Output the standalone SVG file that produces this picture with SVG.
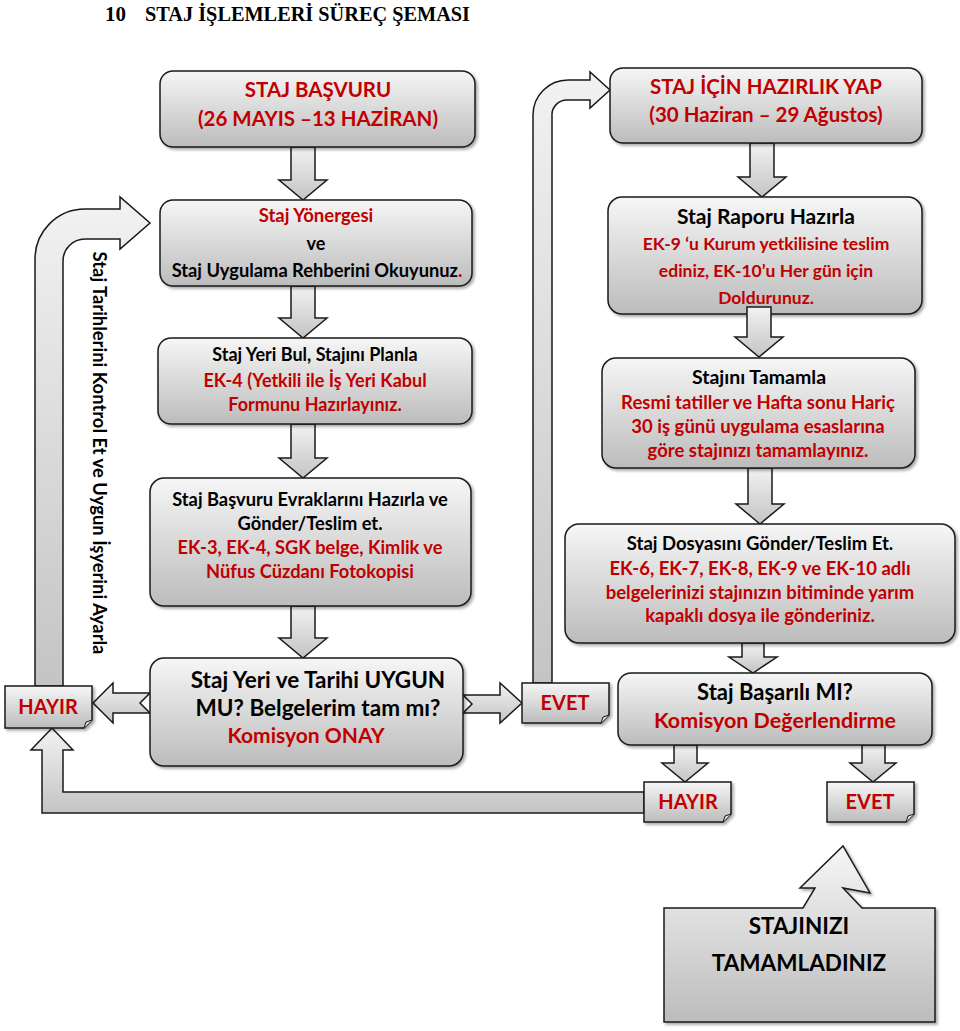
<svg xmlns="http://www.w3.org/2000/svg" width="960" height="1031" viewBox="0 0 960 1031">
<defs>
<linearGradient id="gBox" x1="0" y1="0" x2="0" y2="1">
<stop offset="0" stop-color="#f6f6f6"/>
<stop offset="1" stop-color="#bcbcbc"/>
</linearGradient>
<linearGradient id="gArr" x1="0" y1="0" x2="0" y2="1">
<stop offset="0" stop-color="#f2f2f2"/>
<stop offset="1" stop-color="#c4c4c4"/>
</linearGradient>
<filter id="sh" x="-5%" y="-5%" width="115%" height="120%">
<feDropShadow dx="2" dy="2" stdDeviation="1.5" flood-color="#000" flood-opacity="0.35"/>
</filter>
</defs>
<style>
.box{fill:url(#gBox);stroke:#1a1a1a;stroke-width:1.5;filter:url(#sh)}
.arr{fill:url(#gArr);stroke:#1a1a1a;stroke-width:1.5;stroke-linejoin:miter}
.t{font-family:Lato,"Liberation Sans",sans-serif;font-weight:bold;text-anchor:middle}
.r{fill:#c00000}
.k{fill:#000}
.title{font-family:"Liberation Serif","DejaVu Serif",serif;font-weight:bold;font-size:21px;fill:#000}
</style>
<rect width="960" height="1031" fill="#fff"/>
<text class="title" x="105" y="21">10</text>
<text class="title" x="145" y="21" textLength="325" lengthAdjust="spacingAndGlyphs">STAJ İŞLEMLERİ SÜREÇ ŞEMASI</text>

<g id="connectors">
<path class="arr" d="M35,686 L35,259 A50,50 0 0 1 85,209 L120,209 L120,197 L150,223 L120,249 L120,239 L85,239 A22,22 0 0 0 63,261 L63,686 Z"/>
<path class="arr" d="M533,683 L533,115 A35,35 0 0 1 568,80 L590,80 L590,72 L610,90 L590,108 L590,100 L568,100 A15,15 0 0 0 552,116 L552,683 Z"/>
<path class="arr" d="M644,792 L63,792 L63,750 L73,750 L52,728 L31,750 L42,750 L42,813 L644,813 Z"/>
<path class="arr" d="M93,703 L113,683 L113,693 L150,693 L140,703 L150,713 L113,713 L113,723 Z"/>
<path class="arr" d="M463,695 L500,695 L500,683 L522,703 L500,723 L500,713 L463,713 L472,704 Z"/>
<path class="arr" d="M291,147 L315,147 L315,180 L327,180 L303,200 L279,180 L291,180 Z"/>
<path class="arr" d="M291,286 L315,286 L315,318 L327,318 L303,338 L279,318 L291,318 Z"/>
<path class="arr" d="M291,424 L315,424 L315,458 L327,458 L303,478 L279,458 L291,458 Z"/>
<path class="arr" d="M291,606 L315,606 L315,638 L327,638 L303,658 L279,638 L291,638 Z"/>
<path class="arr" d="M750,143 L774,143 L774,177 L786,177 L762,197 L738,177 L750,177 Z"/>
<path class="arr" d="M748,468 L772,468 L772,504 L784,504 L760,524 L736,504 L748,504 Z"/>
<path class="arr" d="M742,643 L764,643 L764,657 L777,657 L753,673 L729,657 L742,657 Z"/>
<path class="arr" d="M674,745 L697,745 L697,763 L708,763 L685,782 L662,763 L674,763 Z"/>
<path class="arr" d="M862,745 L885,745 L885,763 L896,763 L873,782 L850,763 L862,763 Z"/>
</g>

<g id="n-basvuru">
<rect class="box" x="160" y="71" width="315" height="76" rx="13"/>
<text class="t r" x="318" y="97" font-size="20.5">STAJ BAŞVURU</text>
<text class="t r" x="318" y="126" font-size="20.5">(26 MAYIS –13 HAZİRAN)</text>
</g>
<g id="n-yonerge">
<rect class="box" x="160" y="200" width="312" height="86" rx="13"/>
<text class="t r" x="316" y="222" font-size="18.5">Staj Yönergesi</text>
<text class="t k" x="316" y="250" font-size="18">ve</text>
<text class="t k" x="317" y="277" font-size="18.3">Staj Uygulama Rehberini Okuyunuz<tspan class="r">.</tspan></text>
</g>
<g id="n-yeribul">
<rect class="box" x="158" y="338" width="314" height="86" rx="13"/>
<text class="t k" x="315" y="361" font-size="18">Staj Yeri Bul, Stajını Planla</text>
<text class="t r" x="315" y="387" font-size="18">EK-4 (Yetkili ile İş Yeri Kabul</text>
<text class="t r" x="315" y="411" font-size="18">Formunu Hazırlayınız.</text>
</g>
<g id="n-evrak">
<rect class="box" x="150" y="478" width="321" height="128" rx="14"/>
<text class="t k" x="310" y="506" font-size="18.3">Staj Başvuru Evraklarını Hazırla ve</text>
<text class="t k" x="310" y="530" font-size="18.3">Gönder/Teslim et.</text>
<text class="t r" x="310" y="554" font-size="18.3">EK-3, EK-4, SGK belge, Kimlik ve</text>
<text class="t r" x="310" y="578" font-size="18.3">Nüfus Cüzdanı Fotokopisi</text>
</g>
<g id="n-onay">
<rect class="box" x="150" y="658" width="313" height="108" rx="14"/>
<text class="t k" x="318" y="688" font-size="22.5">Staj Yeri ve Tarihi UYGUN</text>
<text class="t k" x="318" y="716" font-size="22.5">MU? Belgelerim tam mı?</text>
<text class="t r" x="306" y="743" font-size="21">Komisyon ONAY</text>
</g>
<g id="n-hayir1">
<path class="box" d="M5,686 L92,686 L92,720 L84,728 L5,728 Z"/>
<path d="M84,728 L86,722 L92,720" fill="#ddd" stroke="#1a1a1a" stroke-width="1"/>
<text class="t r" x="48" y="714" font-size="20">HAYIR</text>
</g>
<g id="n-evet1">
<path class="box" d="M522,683 L609,683 L609,715 L601,723 L522,723 Z"/>
<path d="M601,723 L603,717 L609,715" fill="#ddd" stroke="#1a1a1a" stroke-width="1"/>
<text class="t r" x="565" y="710" font-size="20">EVET</text>
</g>
<g id="n-hazirlik">
<rect class="box" x="610" y="68" width="312" height="75" rx="13"/>
<text class="t r" x="766" y="94" font-size="20.5">STAJ İÇİN HAZIRLIK YAP</text>
<text class="t r" x="766" y="122" font-size="20.5">(30 Haziran – 29 Ağustos)</text>
</g>
<g id="n-rapor">
<rect class="box" x="608" y="197" width="314" height="117" rx="14"/>
<text class="t k" x="766" y="224" font-size="21">Staj Raporu Hazırla</text>
<text class="t r" x="766" y="250" font-size="17.5">EK-9 ‘u Kurum yetkilisine teslim</text>
<text class="t r" x="766" y="277" font-size="17.5">ediniz, EK-10’u Her gün için</text>
<text class="t r" x="766" y="304" font-size="17.5">Doldurunuz.</text>
</g>
<path class="arr" d="M747,307 L771,307 L771,337 L783,337 L759,357 L735,337 L747,337 Z"/>
<g id="n-tamamla">
<rect class="box" x="602" y="358" width="313" height="110" rx="14"/>
<text class="t k" x="759" y="384" font-size="19.5">Stajını Tamamla</text>
<text class="t r" x="758" y="409" font-size="18.5">Resmi tatiller ve Hafta sonu Hariç</text>
<text class="t r" x="758" y="433" font-size="18.5">30 iş günü uygulama esaslarına</text>
<text class="t r" x="758" y="457" font-size="18.5">göre stajınızı tamamlayınız.</text>
</g>
<g id="n-dosya">
<rect class="box" x="565" y="524" width="390" height="119" rx="14"/>
<text class="t k" x="760" y="550" font-size="18.5">Staj Dosyasını Gönder/Teslim Et.</text>
<text class="t r" x="760" y="575" font-size="18.5">EK-6, EK-7, EK-8, EK-9 ve EK-10 adlı</text>
<text class="t r" x="760" y="599" font-size="18.5">belgelerinizi stajınızın bitiminde yarım</text>
<text class="t r" x="760" y="622" font-size="18.5">kapaklı dosya ile gönderiniz.</text>
</g>
<g id="n-komisyon">
<rect class="box" x="618" y="673" width="314" height="72" rx="13"/>
<text class="t k" x="775" y="700" font-size="22">Staj Başarılı MI?</text>
<text class="t r" x="775" y="728" font-size="21.5">Komisyon Değerlendirme</text>
</g>
<g id="n-hayir2">
<path class="box" d="M644,782 L731,782 L731,814 L723,822 L644,822 Z"/>
<path d="M723,822 L725,816 L731,814" fill="#ddd" stroke="#1a1a1a" stroke-width="1"/>
<text class="t r" x="688" y="809" font-size="20">HAYIR</text>
</g>
<g id="n-evet2">
<path class="box" d="M827,782 L914,782 L914,814 L906,822 L827,822 Z"/>
<path d="M906,822 L908,816 L914,814" fill="#ddd" stroke="#1a1a1a" stroke-width="1"/>
<text class="t r" x="870" y="809" font-size="20">EVET</text>
</g>
<g id="n-son">
<path class="box" d="M664,908 L803,908 L815,888 L800,888 L843,846 L870,893 L843,888 L862,908 L935,908 L935,1022 L664,1022 Z"/>
<text class="t k" x="799" y="934" font-size="22.5">STAJINIZI</text>
<text class="t k" x="799" y="971" font-size="22.5">TAMAMLADINIZ</text>
</g>
<g id="n-kontrol">
<text class="t k" transform="translate(93,453) rotate(90)" font-size="18.4">Staj Tarihlerini Kontrol Et ve Uygun İşyerini Ayarla</text>
</g>
</svg>
